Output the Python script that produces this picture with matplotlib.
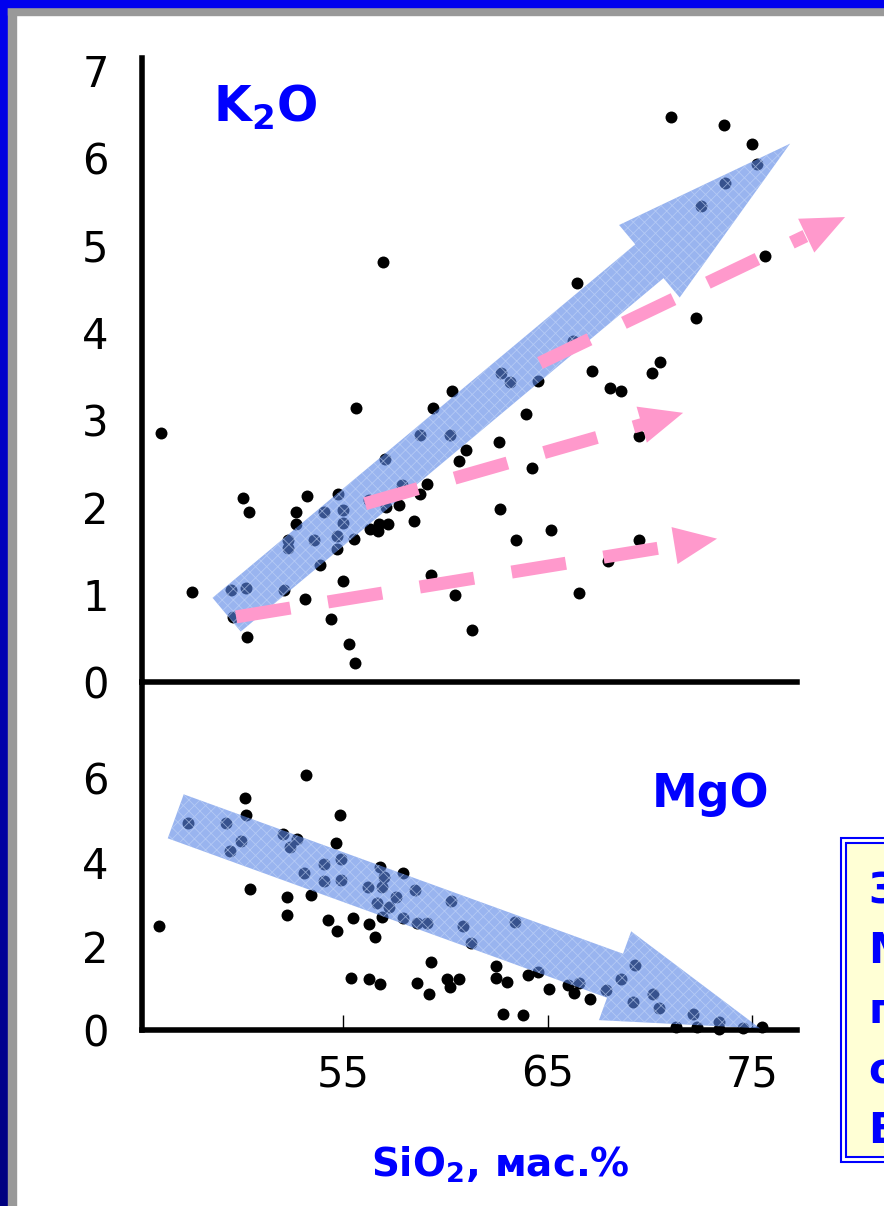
import numpy as np
import matplotlib
matplotlib.use('agg')
import matplotlib.pyplot as plt
from matplotlib.patches import Rectangle

plt.rcParams['font.family'] = ['DejaVu Sans']
plt.rcParams['mathtext.fontset'] = 'dejavusans'
plt.rcParams['lines.scale_dashes'] = False
plt.rcParams['hatch.linewidth'] = 0.6

# K2O vs SiO2 (upper panel)
k2o_sio2 = [46.09, 55.64, 60.34, 59.39, 58.77, 60.23, 61.01, 60.69, 57.05, 50.10,
            50.40, 53.25, 54.74, 52.70, 52.70, 54.07, 54.99, 54.99, 57.89, 59.09,
            58.77, 57.75, 56.32, 56.73, 57.22, 56.78, 56.29, 57.10, 58.49, 52.33,
            52.33, 53.58, 54.71, 54.71, 55.55, 53.88, 47.60, 49.51, 50.26, 52.10,
            54.99, 59.30, 53.13, 49.61, 50.32, 54.40, 60.49, 61.31, 55.31, 55.57,
            71.04, 73.65, 75.00, 75.23, 73.69, 72.49, 75.62, 66.43, 72.26, 62.73,
            63.18, 64.55, 66.25, 67.18, 70.52, 70.10, 68.06, 68.58, 63.93, 62.64,
            64.23, 69.46, 62.68, 63.47, 65.16, 69.47, 67.96, 66.54, 56.97]
k2o = [2.85, 3.14, 3.33, 3.14, 2.83, 2.83, 2.65, 2.53, 2.55, 2.11,
       1.95, 2.13, 2.15, 1.95, 1.81, 1.94, 1.97, 1.82, 2.25, 2.26,
       2.15, 2.02, 1.75, 1.73, 1.81, 1.81, 2.08, 2.00, 1.84, 1.63,
       1.53, 1.63, 1.67, 1.52, 1.64, 1.34, 1.03, 1.05, 1.07, 1.05,
       1.16, 1.23, 0.95, 0.74, 0.52, 0.72, 1.00, 0.60, 0.43, 0.22,
       6.47, 6.37, 6.16, 5.93, 5.71, 5.45, 4.88, 4.57, 4.17, 3.53,
       3.43, 3.44, 3.90, 3.56, 3.66, 3.53, 3.36, 3.33, 3.07, 2.75,
       2.45, 2.82, 1.98, 1.63, 1.74, 1.62, 1.38, 1.02, 4.81]

# MgO vs SiO2 (lower panel)
mgo_sio2 = [53.19, 50.21, 50.26, 47.44, 49.28, 50.00, 49.47, 52.05, 52.74, 52.41,
            54.87, 54.64, 54.89, 54.09, 53.08, 54.09, 54.89, 56.81, 57.02, 56.89,
            56.24, 57.92, 58.51, 57.59, 56.68, 57.23, 56.89, 57.92, 58.60, 59.12,
            60.27, 60.85, 61.24, 50.45, 52.25, 52.25, 53.45, 54.28, 54.71, 55.50,
            56.29, 56.55, 46.02, 55.39, 56.29, 56.81, 59.32, 58.63, 59.19, 60.10,
            60.69, 60.23, 63.41, 62.48, 62.48, 63.03, 64.06, 64.55, 65.07, 66.02,
            66.31, 66.56, 67.08, 67.86, 68.58, 69.29, 69.20, 70.14, 70.45, 72.13,
            71.28, 72.30, 73.39, 73.40, 74.57, 75.49, 62.84, 63.81]
mgo = [6.08, 5.52, 5.12, 4.94, 4.94, 4.50, 4.26, 4.67, 4.54, 4.35,
       5.12, 4.45, 4.08, 3.95, 3.75, 3.55, 3.57, 3.89, 3.65, 3.41,
       3.41, 3.73, 3.33, 3.17, 3.02, 2.94, 2.70, 2.67, 2.56, 2.55,
       3.07, 2.48, 2.08, 3.37, 3.17, 2.73, 3.21, 2.62, 2.36, 2.67,
       2.52, 2.21, 2.48, 1.25, 1.21, 1.10, 1.63, 1.11, 0.86, 1.21,
       1.21, 1.03, 2.58, 1.52, 1.23, 1.15, 1.31, 1.39, 0.97, 1.07,
       0.87, 1.13, 0.75, 0.95, 1.22, 1.54, 0.67, 0.85, 0.52, 0.38,
       0.08, 0.08, 0.18, 0.03, 0.04, 0.08, 0.37, 0.36]

x_ticks = [55, 65, 75]
k2o_ticks = [0, 1, 2, 3, 4, 5, 6, 7]
mgo_ticks = [0, 2, 4, 6]

# trend arrows (tail, tip) in data units
k2o_trend = ((49.31, 0.77), (76.86, 6.16))
mgo_trend = ((46.82, 5.09), (75.39, 0.04))
pink_trends = [((49.77, 0.745), (73.29, 1.64), 0.91),
               ((56.08, 2.04), (71.63, 3.08), 0.88),
               ((64.63, 3.65), (79.55, 5.32), 0.87)]

blue = '#0000ff'
pink = '#ff99cc'
W, H = 884, 1206


def box(x0, y0, x1, y1):
    return [x0 / W, 1 - y1 / H, (x1 - x0) / W, (y1 - y0) / H]


fig = plt.figure(figsize=(W / 100, H / 100), dpi=100)
fig.patch.set_facecolor('white')

ax1 = fig.add_axes(box(142, 58, 797, 682))
ax2 = fig.add_axes(box(142, 682, 797, 1030), sharex=ax1)

for ax in (ax1, ax2):
    ax.set_facecolor('none')
    ax.spines['top'].set_visible(False)
    ax.spines['right'].set_visible(False)
    ax.spines['left'].set_linewidth(4)
    ax.spines['bottom'].set_linewidth(4)
    ax.tick_params(axis='y', length=0, pad=24, labelsize=30)

ax1.set_xlim(45.17, 77.2)
ax1.set_ylim(0, 7.14)
ax2.set_ylim(0, 8.29)
ax1.set_yticks(k2o_ticks)
ax2.set_yticks(mgo_ticks)
ax1.tick_params(axis='x', bottom=False, labelbottom=False)
ax2.set_xticks(x_ticks)
ax2.tick_params(axis='x', direction='in', length=11, width=1, pad=17, labelsize=30)

ax1.scatter(k2o_sio2, k2o, s=74, c='black', lw=0, zorder=3, clip_on=False)
ax2.scatter(mgo_sio2, mgo, s=74, c='black', lw=0, zorder=3, clip_on=False)


def blue_arrow(ax, trend, tw, hw, hl):
    tail, tip = trend
    ax.annotate('', xy=tip, xytext=tail, annotation_clip=False, zorder=4,
                arrowprops=dict(arrowstyle=f'simple,tail_width={tw},head_width={hw},head_length={hl}',
                                mutation_scale=1, fc='#5a86e6', ec='#c4d6f8', lw=0,
                                alpha=0.62, hatch='xxx', shrinkA=0, shrinkB=0))


def pink_arrow(ax, tail, tip, frac):
    base = (tail[0] + (tip[0] - tail[0]) * frac, tail[1] + (tip[1] - tail[1]) * frac)
    ax.plot([tail[0], base[0]], [tail[1], base[1]], color=pink, lw=9.4,
            dashes=(39.6, 27.4), dash_capstyle='butt', zorder=5, clip_on=False)
    ax.annotate('', xy=tip, xytext=base, annotation_clip=False, zorder=5,
                arrowprops=dict(arrowstyle='-|>,head_length=3.1,head_width=1.35',
                                mutation_scale=10, color=pink, lw=0, shrinkA=0, shrinkB=0))


blue_arrow(ax1, k2o_trend, 31.7, 68, 132)
blue_arrow(ax2, mgo_trend, 33.7, 68, 111)
for tail, tip, frac in pink_trends:
    pink_arrow(ax1, tail, tip, frac)

fig.text(213 / W, 1 - 122 / H, 'K$_\\mathbf{2}$O', ha='left', va='baseline',
         fontsize=35, fontweight='bold', color=blue)
fig.text(652 / W, 1 - 807 / H, 'MgO', ha='left', va='baseline',
         fontsize=33, fontweight='bold', color=blue)
fig.text(500 / W, 1 - 1177 / H, 'SiO$_\\mathbf{2}$, мас.%', ha='center', va='baseline',
         fontsize=28, fontweight='bold', color=blue)

# note box cut by the right edge of the slide
fig.add_artist(Rectangle((841 / W, 1 - 1162 / H), 60 / W, 324 / H, transform=fig.transFigure,
                         fc='white', ec=blue, lw=1.5))
fig.add_artist(Rectangle((846 / W, 1 - 1157 / H), 60 / W, 314 / H, transform=fig.transFigure,
                         fc='#ffffd5', ec=blue, lw=1.5))
for letter, yb in zip(['З', 'М', 'п', 'о', 'В'], [903, 963, 1023, 1083, 1143]):
    fig.text(868 / W, 1 - yb / H, letter, ha='left', va='baseline',
             fontsize=30, fontweight='bold', color=blue)

# slide frame
fig.add_artist(Rectangle((8 / W, 1 - 15 / H), 1, 8 / H, transform=fig.transFigure, color='#999999', zorder=10))
fig.add_artist(Rectangle((8 / W, 0), 8 / W, 1 - 7 / H, transform=fig.transFigure, color='#999999', zorder=10))
fig.add_artist(Rectangle((0, 1 - 7 / H), 1, 7 / H, transform=fig.transFigure, color='#0000ee', zorder=11))
gax = fig.add_axes([0, 0, 8 / W, 1])
gax.imshow(np.linspace(1, 0, 256).reshape(-1, 1), aspect='auto',
           cmap=matplotlib.colors.LinearSegmentedColormap.from_list('frame', ['#000080', '#0000ee']),
           extent=[0, 1, 0, 1])
gax.axis('off')

fig.savefig('out.png', dpi=100)
